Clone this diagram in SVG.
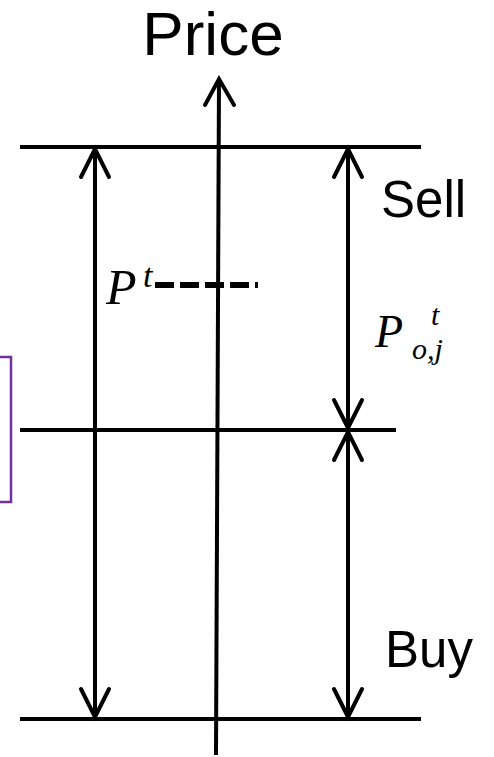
<svg xmlns="http://www.w3.org/2000/svg" width="494" height="757" viewBox="0 0 494 757">
<style>
.ln{stroke:#000;stroke-width:4;fill:none}
.hd{stroke:#000;stroke-width:4;fill:none;stroke-linecap:round;stroke-linejoin:miter}
.sans{font-family:"Liberation Sans",Arial,sans-serif;fill:#000}
.math{font-family:"Liberation Serif","Times New Roman",serif;font-style:italic;fill:#000}
</style>
<rect width="494" height="757" fill="#fff"/>
<g id="box"><path d="M-2 357 H11 V502 H-2" fill="none" stroke="#7030A0" stroke-width="2.5"/></g>
<g id="levels">
<line class="ln" x1="20" y1="147" x2="421" y2="147"/>
<line class="ln" x1="20" y1="430" x2="396" y2="430"/>
<line class="ln" x1="20" y1="719" x2="421" y2="719"/>
</g>
<g id="connectors">
<line class="ln" x1="219" y1="80" x2="216" y2="755"/>
<path class="hd" d="M205 105 L219 79 L234 105"/>
<line class="ln" x1="95" y1="150" x2="95" y2="716"/>
<path class="hd" d="M81 177 L95 149 L109 177"/>
<path class="hd" d="M81 689 L95 717 L109 689"/>
<line class="ln" x1="348" y1="150" x2="348" y2="716"/>
<path class="hd" d="M334 177 L348 149 L362 177"/>
<path class="hd" d="M334 400 L348 428 L362 400"/>
<path class="hd" d="M334 460 L348 432 L362 460"/>
<path class="hd" d="M334 689 L348 717 L362 689"/>
<line x1="155" y1="285" x2="258" y2="285" stroke="#000" stroke-width="6" stroke-dasharray="19,6"/>
</g>
<g id="labels">
<text class="sans" x="213" y="55" font-size="62" text-anchor="middle">Price</text>
<text class="sans" x="381" y="217" font-size="51">Sell</text>
<text class="sans" x="385" y="667" font-size="51">Buy</text>
<text class="math" font-size="50"><tspan x="106" y="304">P</tspan><tspan x="143" y="287" font-size="34">t</tspan></text>
<text class="math" font-size="46"><tspan x="375" y="347">P</tspan><tspan x="431" y="325" font-size="30">t</tspan><tspan x="412" y="359" font-size="30">o,j</tspan></text>
</g>
</svg>
